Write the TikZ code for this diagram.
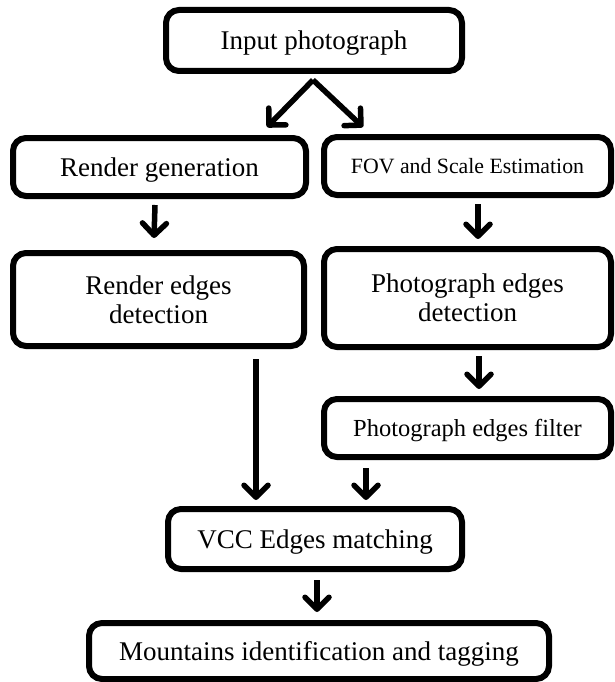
\documentclass[tikz,border=0pt]{standalone}
\usepackage{fontspec}
\setmainfont{Liberation Serif}
\usetikzlibrary{arrows.meta,calc}

\tikzset{
  stage/.style={draw=black, line width=6pt, rounded corners=13pt,
    align=center, inner sep=0pt, font=\fontsize{27}{32}\selectfont},
  oneline/.style={text height=#1, text depth=0pt},
  arr/.style={line width=5.5pt,
    -{Straight Barb[length=12pt,width=24pt,line cap=round,line join=round]}}
}

\begin{document}
\begin{tikzpicture}[x=1pt,y=-1pt]
\useasboundingbox (0,0) rectangle (614,682);

% processing stages
\node[stage, oneline=18pt, minimum width=296pt, minimum height=61pt] (in)  at (314,40.5) {Input photograph};
\node[stage, oneline=18pt, minimum width=293pt, minimum height=58pt] (rg)  at (159.5,167) {Render generation};
\node[stage, oneline=14.5pt, minimum width=287pt, minimum height=58pt,
      font=\fontsize{21.8}{26}\selectfont] (fov) at (467.5,166) {FOV and Scale Estimation};
\node[stage, minimum width=291pt, minimum height=93pt] (red) at (158.5,299.5) {Render edges\\[-3pt]detection};
\node[stage, minimum width=287pt, minimum height=98pt] (ped) at (467.5,298) {Photograph edges\\[-3pt]detection};
\node[stage, oneline=16.2pt, minimum width=287pt, minimum height=58pt,
      font=\fontsize{24.5}{29}\selectfont] (pef) at (467.5,428) {Photograph edges filter};
\node[stage, oneline=18pt, minimum width=294pt, minimum height=60pt] (vcc) at (315,539) {VCC Edges matching};
\node[stage, oneline=18pt, minimum width=460pt, minimum height=56pt] (mit) at (319,651) {Mountains identification and tagging};

% arrow end points
\coordinate (split) at ($(in.south)+(-1,6)$);
\coordinate (tl) at (267,127);
\coordinate (tr) at (363,127);

% connectors
\draw[arr] (split) -- (tl);
\draw[arr] (split) -- (tr);
\draw[arr] ([xshift=-4.5pt,yshift=-6pt]rg.south) -- ([xshift=-4.5pt,yshift=12pt]red.north);
\draw[arr] ([xshift=10.5pt,yshift=-6pt]fov.south) -- ([xshift=10.5pt,yshift=7pt]ped.north);
\draw[arr] ([xshift=11.5pt,yshift=-6pt]ped.south) -- ([xshift=11.5pt,yshift=7pt]pef.north);
\draw[arr] (red.south -| 256,0) ++(0,10) -- ([yshift=6pt]vcc.north -| 256,0);
\draw[arr] ([yshift=-8pt]pef.south -| 366,0) -- ([yshift=6pt]vcc.north -| 366,0);
\draw[arr] ([xshift=2pt,yshift=-8pt]vcc.south) -- ([xshift=-2pt,yshift=8pt]mit.north);
\end{tikzpicture}
\end{document}
